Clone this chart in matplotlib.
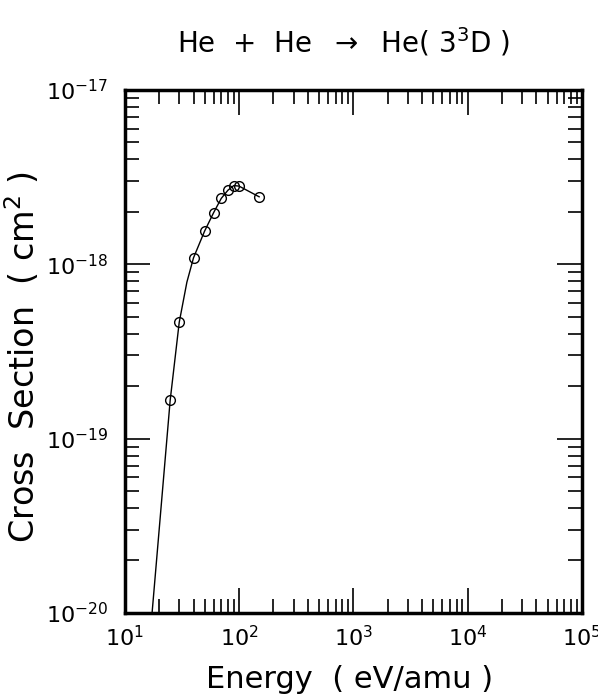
import numpy as np
import matplotlib
matplotlib.use("Agg")
import matplotlib.pyplot as plt
from matplotlib.ticker import LogLocator, NullFormatter

plt.rcParams['font.family'] = ['DejaVu Sans']
plt.rcParams['mathtext.fontset'] = 'dejavusans'

# measured points
energy = [25, 30, 40, 50, 60, 70, 80, 90, 100, 150]
sigma = [1.66e-19, 4.65e-19, 1.09e-18, 1.55e-18, 1.98e-18,
         2.39e-18, 2.66e-18, 2.83e-18, 2.81e-18, 2.44e-18]

# fitted curve drawn through the points
fit_energy = [17, 25, 30, 35, 40, 50, 60, 70, 80, 90, 100, 150]
fit_sigma = [8.5e-21, 1.66e-19, 4.65e-19, 7.9e-19, 1.09e-18, 1.55e-18, 1.98e-18,
             2.39e-18, 2.66e-18, 2.83e-18, 2.81e-18, 2.44e-18]

x_ticks = [1e1, 1e2, 1e3, 1e4, 1e5]
x_labels = [r"10$^{1}$", r"10$^{2}$", r"10$^{3}$", r"10$^{4}$", r"10$^{5}$"]
y_ticks = [1e-20, 1e-19, 1e-18, 1e-17]
y_labels = [r"10$^{-20}$", r"10$^{-19}$", r"10$^{-18}$", r"10$^{-17}$"]

fig = plt.figure(figsize=(5.98, 6.96), dpi=100)
ax = fig.add_axes([0.2085, 0.1193, 0.7647, 0.7514])

ax.plot(fit_energy, fit_sigma, color="black", lw=1.0)
ax.plot(energy, sigma, "o", mfc="none", mec="black", ms=7, mew=1.0)

ax.set_xscale("log")
ax.set_yscale("log")
ax.set_xlim(1e1, 1e5)
ax.set_ylim(1e-20, 1e-17)

ax.set_xticks(x_ticks)
ax.set_xticklabels(x_labels)
ax.set_yticks(y_ticks)
ax.set_yticklabels(y_labels)
ax.xaxis.set_minor_locator(LogLocator(base=10, subs=np.arange(2, 10)))
ax.yaxis.set_minor_locator(LogLocator(base=10, subs=np.arange(2, 10)))
ax.xaxis.set_minor_formatter(NullFormatter())
ax.yaxis.set_minor_formatter(NullFormatter())

ax.tick_params(which="both", direction="in", top=True, right=True, width=1.2,
               labelsize=16)
ax.tick_params(which="major", length=18)
ax.tick_params(which="minor", length=10)
ax.tick_params(axis="x", pad=9)
ax.tick_params(axis="y", pad=12)
for s in ax.spines.values():
    s.set_linewidth(2.5)

fig.text(0.575, 0.94, r"He  +  He  $\rightarrow$  He( 3$^3$D )", fontsize=20,
         ha="center", va="center")
fig.text(0.585, 0.023, "Energy  ( eV/amu )", fontsize=22, ha="center", va="center")
fig.text(0.037, 0.487, r"Cross  Section  ( cm$^2$ )", fontsize=24, ha="center",
         va="center", rotation=90)

fig.savefig("out.png", dpi=100)
